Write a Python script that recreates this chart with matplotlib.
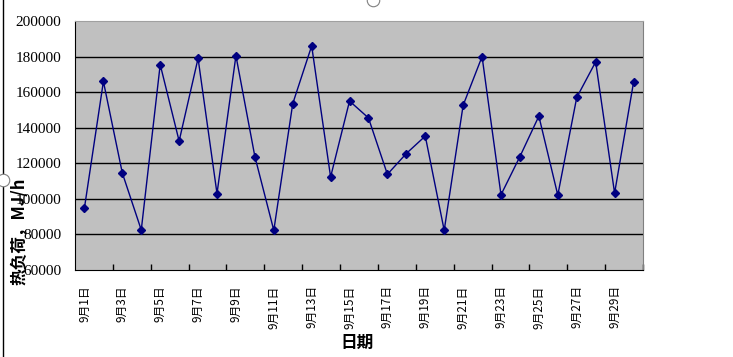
import numpy as np
import matplotlib
matplotlib.use("Agg")
import matplotlib.pyplot as plt
import matplotlib.transforms as mtransforms
from matplotlib.lines import Line2D

# daily heat load, 1-30 September
days = [f"9月{d}日" for d in range(1, 31)]
heat_load = [95000, 166000, 114500, 82500, 175500, 132500, 179000, 103000, 180500, 123800,
             82300, 153500, 186000, 112300, 155000, 145500, 113800, 125500, 135300, 82300,
             152600, 180000, 102300, 123800, 146500, 102100, 157000, 177000, 103200, 165500]
y_ticks = [60000, 80000, 100000, 120000, 140000, 160000, 180000, 200000]

fonts = ['Liberation Serif', 'Noto Sans CJK SC', 'DejaVu Sans']
plt.rcParams['font.family'] = fonts

fig = plt.figure(figsize=(7.33, 3.57), dpi=100)
ax = fig.add_axes([75/733, 1-270/357, 568/733, 249/357])
ax.set_facecolor('#c0c0c0')

x = np.arange(len(days))
ax.plot(x, heat_load, color='#000080', lw=1, marker='D', ms=4.5, zorder=3)

ax.set_xlim(-0.5, len(days) - 0.5)
ax.set_ylim(60000, 200000)
ax.set_yticks(y_ticks)
ax.set_yticklabels([str(v) for v in y_ticks], fontsize=11)
for v in y_ticks[1:-1]:
    ax.axhline(v, color='black', lw=1, zorder=1)

ax.set_xticks(x[::2])
ax.set_xticklabels(days[::2], rotation=90, fontsize=8.5,
                   family=['Noto Sans CJK SC', 'DejaVu Sans'])
shift = mtransforms.ScaledTranslation(-4/100, 0, fig.dpi_scale_trans)
for lbl in ax.get_xticklabels():
    lbl.set_transform(lbl.get_transform() + shift)
ax.set_xticks(np.arange(1.5, len(days), 2), minor=True)
ax.tick_params(axis='x', which='major', length=0, pad=11)
ax.tick_params(axis='x', which='minor', direction='in', length=4, width=1, color='black')
ax.tick_params(axis='y', length=0, pad=10)

ax.spines['left'].set_color('black')
ax.spines['bottom'].set_color('black')
ax.spines['top'].set_color('#a0a0a0')
ax.spines['right'].set_color('#808080')

fig.text(19/733, 1-231/357, '热负荷，MJ/h', rotation=90, ha='center', va='center',
         fontsize=12, fontweight='bold', family=['Noto Sans CJK SC', 'DejaVu Sans'])
fig.text(357/733, 1-343/357, '日期', ha='center', va='center',
         fontsize=12, fontweight='bold', family=['Noto Sans CJK SC', 'DejaVu Sans'])

# chart-area frame line and selection handles
fig.add_artist(Line2D([3/733, 3/733], [0, 1], color='black', lw=1))
for hx, hy in [(3/733, 1-180/357), (373/733, 1.0)]:
    fig.add_artist(Line2D([hx], [hy], marker='o', ms=9, mfc='white', mec='#808080',
                          mew=0.8, transform=fig.transFigure))

fig.savefig('out.png', dpi=100)
